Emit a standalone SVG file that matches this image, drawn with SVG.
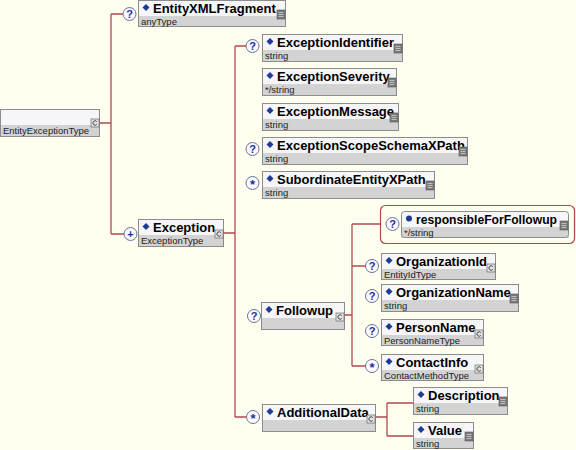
<svg xmlns="http://www.w3.org/2000/svg" width="576" height="450" viewBox="0 0 576 450">
<defs>
<style>
.bg{fill:#FFFFF0}
.top{fill:#F6F6F8}
.bot{fill:#D3D3D3}
.frame{fill:none;stroke:#8C8C8C;stroke-width:1}
.t{font-family:"Liberation Sans",Arial,sans-serif;font-weight:bold;font-size:13px;fill:#000}
.s{font-family:"Liberation Sans",Arial,sans-serif;font-size:9.5px;fill:#222}
.dia{fill:#1F3A93}
.con{fill:none;stroke:#AE4B4B;stroke-width:1.3}
.occ{fill:#FAFAFF;stroke:#6A70A0;stroke-width:1}
.ot{font-family:"Liberation Sans",Arial,sans-serif;font-weight:bold;font-size:11px;fill:#1F2F9A;text-anchor:middle}
.doc{fill:#7A7A7A;stroke:#555;stroke-width:0.6}
.docl{stroke:#CFCFCF;stroke-width:0.8}
.cic{fill:#E2E2E2;stroke:#6A6A6A;stroke-width:0.7}
.cp{fill:none;stroke:#333;stroke-width:0.9}
</style>
<g id="docicon"><rect class="doc" x="0" y="0" width="8" height="9"/><line class="docl" x1="1.5" y1="2.5" x2="6.5" y2="2.5"/><line class="docl" x1="1.5" y1="4.5" x2="6.5" y2="4.5"/><line class="docl" x1="1.5" y1="6.5" x2="6.5" y2="6.5"/></g>
<g id="cicon"><rect class="cic" x="0" y="0" width="8" height="8"/><path class="cp" d="M5.8,2.6 A2.2,2.2 0 1 0 5.8,5.4"/></g>
<g id="q"><circle class="occ" r="6.5"/><text class="ot" y="4">?</text></g>
<g id="star"><circle class="occ" r="6.5"/><text class="ot" y="6" style="font-size:13px">*</text></g>
<g id="plus"><circle class="occ" r="6.5"/><text class="ot" y="4">+</text></g>
</defs>
<rect class="bg" x="0" y="0" width="576" height="450"/>

<g id="connectors">
<path class="con" d="M100,123 H111 M111,14 V234 M111,14 H124 M111,234 H124"/>
<path class="con" d="M224,233 H235 M235,46 V417 M235,46 H246 M235,417 H247"/>
<path class="con" d="M345,315 H352 M352,224 V366 M352,224 H380 M352,266 H366 M352,366 H366"/>
<path class="con" d="M376,417 H387 M387,403 V436 M387,403 H413 M387,436 H413"/>
</g>

<g id="EntityExceptionType" transform="translate(0,109)">
<rect class="top" x="0" y="0" width="100" height="16"/><rect class="bot" x="0" y="16" width="100" height="12"/><rect class="frame" x="0.5" y="0.5" width="99" height="27"/>
<use href="#cicon" x="91" y="10"/>
<text class="s" x="3" y="25">EntityExceptionType</text>
</g>

<g id="EntityXMLFragment" transform="translate(138,0)">
<use href="#q" x="-8.5" y="14"/>
<rect class="top" x="0" y="0" width="148" height="16"/><rect class="bot" x="0" y="16" width="148" height="11"/><rect class="frame" x="0.5" y="0.5" width="147" height="26"/>
<path class="dia" d="M8,4 L11.5,7.5 L8,11 L4.5,7.5Z"/>
<text class="t" x="15" y="13">EntityXMLFragment</text>
<use href="#docicon" x="139" y="10"/>
<text class="s" x="3" y="24.5">anyType</text>
</g>

<g id="Exception" transform="translate(138,219)">
<use href="#plus" x="-7.5" y="15"/>
<rect class="top" x="0" y="0" width="86" height="16"/><rect class="bot" x="0" y="16" width="86" height="12"/><rect class="frame" x="0.5" y="0.5" width="85" height="27"/>
<path class="dia" d="M8,4 L11.5,7.5 L8,11 L4.5,7.5Z"/>
<text class="t" x="15" y="13">Exception</text>
<use href="#cicon" x="77" y="11"/>
<text class="s" x="3" y="25">ExceptionType</text>
</g>

<g id="ExceptionIdentifier" transform="translate(262,34)">
<use href="#q" x="-9.5" y="12"/>
<rect class="top" x="0" y="0" width="141" height="16"/><rect class="bot" x="0" y="16" width="141" height="12"/><rect class="frame" x="0.5" y="0.5" width="140" height="27"/>
<path class="dia" d="M8,4 L11.5,7.5 L8,11 L4.5,7.5Z"/>
<text class="t" x="15" y="13">ExceptionIdentifier</text>
<use href="#docicon" x="132" y="10"/>
<text class="s" x="3" y="25">string</text>
</g>

<g id="ExceptionSeverity" transform="translate(262,68)">
<rect class="top" x="0" y="0" width="135" height="16"/><rect class="bot" x="0" y="16" width="135" height="12"/><rect class="frame" x="0.5" y="0.5" width="134" height="27"/>
<path class="dia" d="M8,4 L11.5,7.5 L8,11 L4.5,7.5Z"/>
<text class="t" x="15" y="13">ExceptionSeverity</text>
<use href="#docicon" x="126" y="10"/>
<text class="s" x="3" y="25">*/string</text>
</g>

<g id="ExceptionMessage" transform="translate(262,103)">
<rect class="top" x="0" y="0" width="137" height="16"/><rect class="bot" x="0" y="16" width="137" height="12"/><rect class="frame" x="0.5" y="0.5" width="136" height="27"/>
<path class="dia" d="M8,4 L11.5,7.5 L8,11 L4.5,7.5Z"/>
<text class="t" x="15" y="13">ExceptionMessage</text>
<use href="#docicon" x="128" y="10"/>
<text class="s" x="3" y="25">string</text>
</g>

<g id="ExceptionScopeSchemaXPath" transform="translate(262,137)">
<use href="#q" x="-9.5" y="12"/>
<rect class="top" x="0" y="0" width="206" height="16"/><rect class="bot" x="0" y="16" width="206" height="12"/><rect class="frame" x="0.5" y="0.5" width="205" height="27"/>
<path class="dia" d="M8,4 L11.5,7.5 L8,11 L4.5,7.5Z"/>
<text class="t" x="15" y="13">ExceptionScopeSchemaXPath</text>
<use href="#docicon" x="197" y="10"/>
<text class="s" x="3" y="25">string</text>
</g>

<g id="SubordinateEntityXPath" transform="translate(262,171)">
<use href="#star" x="-9.5" y="12"/>
<rect class="top" x="0" y="0" width="173" height="16"/><rect class="bot" x="0" y="16" width="173" height="12"/><rect class="frame" x="0.5" y="0.5" width="172" height="27"/>
<path class="dia" d="M8,4 L11.5,7.5 L8,11 L4.5,7.5Z"/>
<text class="t" x="15" y="13">SubordinateEntityXPath</text>
<use href="#docicon" x="164" y="10"/>
<text class="s" x="3" y="25">string</text>
</g>

<g id="Followup" transform="translate(261,302)">
<use href="#q" x="-7" y="14"/>
<rect class="top" x="0" y="0" width="84" height="16"/><rect class="bot" x="0" y="16" width="84" height="12"/><rect class="frame" x="0.5" y="0.5" width="83" height="27"/>
<path class="dia" d="M8,4 L11.5,7.5 L8,11 L4.5,7.5Z"/>
<text class="t" x="15" y="13">Followup</text>
<use href="#cicon" x="75" y="11"/>
</g>

<g id="responsibleForFollowup">
<rect x="380.5" y="205.5" width="194" height="38" rx="5" fill="none" stroke="#B04848" stroke-width="1.2"/>
<g transform="translate(401,211)">
<use href="#q" x="-8.5" y="13"/>
<rect class="top" x="0" y="0" width="168" height="16" rx="3"/><rect class="bot" x="0" y="16" width="168" height="11"/><rect class="frame" x="0.5" y="0.5" width="167" height="26" rx="3"/>
<circle class="dia" cx="8" cy="7.5" r="3"/>
<text class="t" x="15" y="13" textLength="141" lengthAdjust="spacingAndGlyphs">responsibleForFollowup</text>
<use href="#docicon" x="159" y="10"/>
<text class="s" x="3" y="24.5">*/string</text>
</g>
</g>

<g id="OrganizationId" transform="translate(381,253)">
<use href="#q" x="-9" y="13"/>
<rect class="top" x="0" y="0" width="115" height="16"/><rect class="bot" x="0" y="16" width="115" height="11"/><rect class="frame" x="0.5" y="0.5" width="114" height="26"/>
<path class="dia" d="M8,4 L11.5,7.5 L8,11 L4.5,7.5Z"/>
<text class="t" x="15" y="13">OrganizationId</text>
<use href="#cicon" x="106" y="11"/>
<text class="s" x="3" y="24.5">EntityIdType</text>
</g>

<g id="OrganizationName" transform="translate(381,284)">
<use href="#q" x="-9" y="12"/>
<rect class="top" x="0" y="0" width="138" height="16"/><rect class="bot" x="0" y="16" width="138" height="12"/><rect class="frame" x="0.5" y="0.5" width="137" height="27"/>
<path class="dia" d="M8,4 L11.5,7.5 L8,11 L4.5,7.5Z"/>
<text class="t" x="15" y="13">OrganizationName</text>
<use href="#docicon" x="129" y="10"/>
<text class="s" x="3" y="25">string</text>
</g>

<g id="PersonName" transform="translate(381,319)">
<use href="#q" x="-9" y="12"/>
<rect class="top" x="0" y="0" width="103" height="16"/><rect class="bot" x="0" y="16" width="103" height="11"/><rect class="frame" x="0.5" y="0.5" width="102" height="26"/>
<path class="dia" d="M8,4 L11.5,7.5 L8,11 L4.5,7.5Z"/>
<text class="t" x="15" y="13">PersonName</text>
<use href="#cicon" x="94" y="11"/>
<text class="s" x="3" y="24.5">PersonNameType</text>
</g>

<g id="ContactInfo" transform="translate(381,354)">
<use href="#star" x="-9" y="12"/>
<rect class="top" x="0" y="0" width="103" height="16"/><rect class="bot" x="0" y="16" width="103" height="11"/><rect class="frame" x="0.5" y="0.5" width="102" height="26"/>
<path class="dia" d="M8,4 L11.5,7.5 L8,11 L4.5,7.5Z"/>
<text class="t" x="15" y="13">ContactInfo</text>
<use href="#cicon" x="94" y="11"/>
<text class="s" x="3" y="24.5">ContactMethodType</text>
</g>

<g id="AdditionalData" transform="translate(262,404)">
<use href="#star" x="-9" y="13"/>
<rect class="top" x="0" y="0" width="114" height="16"/><rect class="bot" x="0" y="16" width="114" height="12"/><rect class="frame" x="0.5" y="0.5" width="113" height="27"/>
<path class="dia" d="M8,4 L11.5,7.5 L8,11 L4.5,7.5Z"/>
<text class="t" x="15" y="13">AdditionalData</text>
<use href="#cicon" x="105" y="11"/>
</g>

<g id="Description" transform="translate(413,387)">
<rect class="top" x="0" y="0" width="95" height="16"/><rect class="bot" x="0" y="16" width="95" height="12"/><rect class="frame" x="0.5" y="0.5" width="94" height="27"/>
<path class="dia" d="M8,4 L11.5,7.5 L8,11 L4.5,7.5Z"/>
<text class="t" x="15" y="13">Description</text>
<use href="#docicon" x="86" y="10"/>
<text class="s" x="3" y="25">string</text>
</g>

<g id="Value" transform="translate(413,422)">
<rect class="top" x="0" y="0" width="61" height="16"/><rect class="bot" x="0" y="16" width="61" height="11"/><rect class="frame" x="0.5" y="0.5" width="60" height="26"/>
<path class="dia" d="M8,4 L11.5,7.5 L8,11 L4.5,7.5Z"/>
<text class="t" x="15" y="13">Value</text>
<use href="#docicon" x="52" y="10"/>
<text class="s" x="3" y="24.5">string</text>
</g>
</svg>
